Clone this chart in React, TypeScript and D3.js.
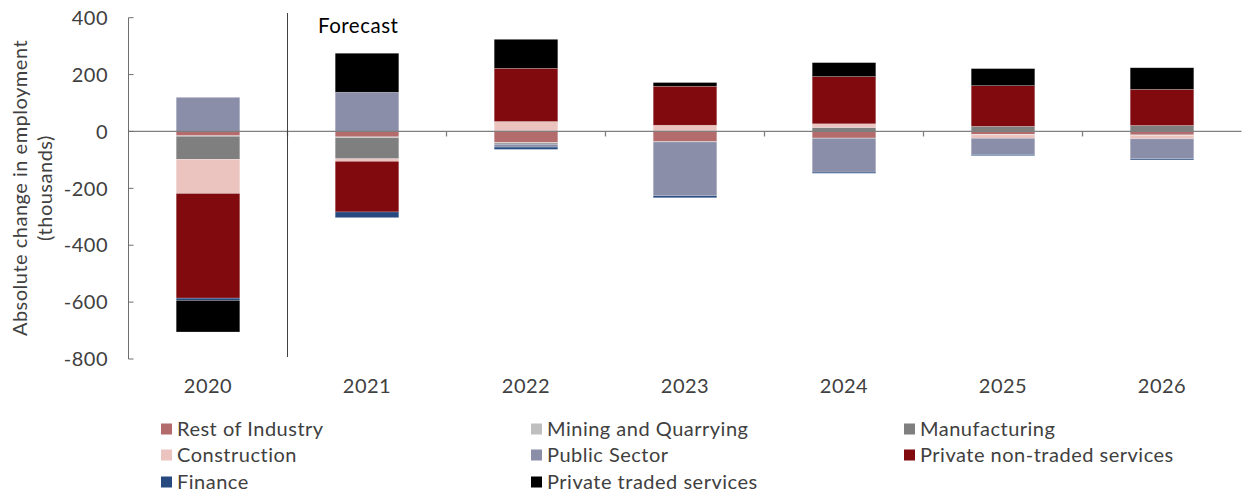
import React from "react";
import * as d3 from "d3";

const years = ["2020", "2021", "2022", "2023", "2024", "2025", "2026"];
const seriesNames = [
  "Rest of Industry",
  "Mining and Quarrying",
  "Manufacturing",
  "Construction",
  "Public Sector",
  "Private non-traded services",
  "Finance",
  "Private traded services",
];
const seriesColors = ["#b46b6b", "#bfbfbf", "#7f7f7f", "#ebc4c0", "#8a8ea9", "#800a0e", "#264a7f", "#000000"];

const restOfIndustry = [-15, -19, -39, -36, -23, -10, -12];
const miningQuarrying = [-2, -3, -2, -1, -1, -2, -2];
const manufacturing = [-81, -74, -4, 0, 14, 18, 21];
const construction = [-120, -9, 35, 22, 13, -12, -12];
const publicSector = [120, 138, -10, -189, -119, -57, -70];
const privateNonTraded = [-368, -178, 187, 137, 166, 143, 127];
const finance = [-8, -20, -8, -7, -4, -4, -4];
const privateTraded = [-111, 137, 102, 13, 49, 60, 76];

const yTicks = [400, 200, 0, -200, -400, -600, -800];

const W = 1243;
const H = 493;
const FONT = "Lato, 'Open Sans', sans-serif";

export default function App() {
  const seriesValues = [
    restOfIndustry,
    miningQuarrying,
    manufacturing,
    construction,
    publicSector,
    privateNonTraded,
    finance,
    privateTraded,
  ];
  const rows = years.map((y, i) => {
    const r: Record<string, number | string> = { year: y };
    seriesNames.forEach((s, k) => (r[s] = seriesValues[k][i]));
    return r;
  });
  const stack = d3
    .stack<any>()
    .keys(seriesNames)
    .offset(d3.stackOffsetDiverging);
  const layers = stack(rows as any);

  const x = d3
    .scaleBand<string>()
    .domain(years)
    .range([128.5, 1241.5])
    .paddingInner(0.6)
    .paddingOuter(0.3);
  const y = d3.scaleLinear().domain([-800, 400]).range([359, 17.7]);
  const step = x.step();
  const x0 = 128.5;

  const legendCols = [161, 531, 904];
  const legendRows = [429, 455, 482];

  return (
    <svg
      width={W}
      height={H}
      style={{ position: "absolute", left: 0, top: 0, background: "#fff" }}
      fontFamily={FONT}
      letterSpacing={0.5}
    >
      {/* bars */}
      {layers.map((layer, k) => (
        <g key={seriesNames[k]} fill={seriesColors[k]}>
          {layer.map((d, i) => {
            const top = y(Math.max(d[0], d[1]));
            const bot = y(Math.min(d[0], d[1]));
            if (bot - top <= 0) return null;
            return (
              <rect
                key={i}
                x={x(years[i])}
                y={top}
                width={x.bandwidth()}
                height={bot - top}
                stroke="#ffffff"
                strokeOpacity={0.35}
                strokeWidth={0.6}
              />
            );
          })}
        </g>
      ))}

      {/* zero line */}
      <line x1={x0} x2={1241.5} y1={y(0)} y2={y(0)} stroke="#7f7f7f" strokeWidth={1.3} />
      {years.slice(1).map((_, i) => (
        <line
          key={i}
          x1={x0 + step * (i + 1)}
          x2={x0 + step * (i + 1)}
          y1={y(0)}
          y2={y(0) + 5}
          stroke="#7f7f7f"
          strokeWidth={1.3}
        />
      ))}

      {/* y axis */}
      <line x1={x0} x2={x0} y1={y(400)} y2={y(-800)} stroke="#6e6e6e" strokeWidth={1} />
      {yTicks.map((t) => (
        <g key={t}>
          <line x1={x0} x2={x0 + 5} y1={y(t)} y2={y(t)} stroke="#6e6e6e" strokeWidth={1} />
          <text
            x={108}
            y={y(t)}
            dy="0.36em"
            textAnchor="end"
            fontSize={20}
            fill="#404040"
          >
            {t}
          </text>
        </g>
      ))}

      {/* y title */}
      <g transform="translate(20,188) rotate(-90)">
        <text textAnchor="middle" dy="0.35em" fontSize={20} fill="#404040">
          Absolute change in employment
        </text>
      </g>
      <g transform="translate(45,188) rotate(-90)">
        <text textAnchor="middle" dy="0.35em" fontSize={20} fill="#404040">
          (thousands)
        </text>
      </g>

      {/* x labels */}
      {years.map((yr) => (
        <text
          key={yr}
          x={(x(yr) as number) + x.bandwidth() / 2}
          y={393}
          textAnchor="middle"
          fontSize={20}
          fill="#404040"
        >
          {yr}
        </text>
      ))}

      {/* forecast divider */}
      <line x1={x0 + step} x2={x0 + step} y1={13} y2={357} stroke="#404040" strokeWidth={1} />
      <text x={318} y={33} fontSize={20.5} fill="#000">
        Forecast
      </text>

      {/* legend */}
      {seriesNames.map((s, k) => {
        const col = k % 3;
        const row = Math.floor(k / 3);
        const cx = legendCols[col];
        const cy = legendRows[row];
        return (
          <g key={s}>
            <rect x={cx} y={cy - 5.5} width={11} height={11} fill={seriesColors[k]} />
            <text x={cx + 16} y={cy} dy="0.36em" fontSize={20} fill="#404040">
              {s}
            </text>
          </g>
        );
      })}
    </svg>
  );
}
